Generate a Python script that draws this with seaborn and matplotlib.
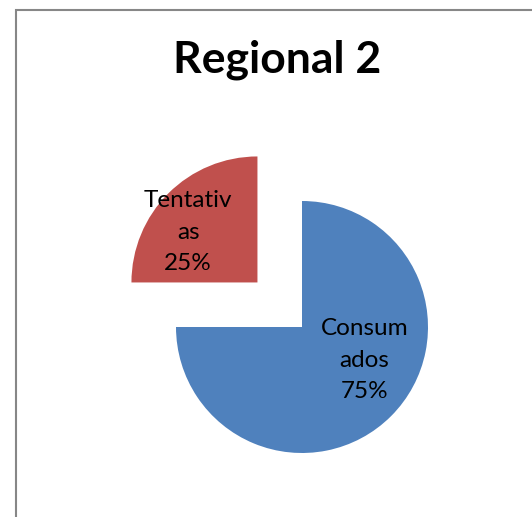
import numpy as np
import matplotlib
matplotlib.use("Agg")
import matplotlib.pyplot as plt
import seaborn as sns

# Data
categories = ["Consumados", "Tentativas"]
values = [75, 25]
wrapped_labels = ["Consum\nados", "Tentativ\nas"]
colors = ["#4F81BD", "#C0504D"]
title = "Regional 2"

sns.set_theme(style="white")
plt.rcParams["font.family"] = ["Lato", "DejaVu Sans"]

W, H = 532, 517
fig = plt.figure(figsize=(W / 100, H / 100), dpi=100)
ax = fig.add_axes([0, 0, 1, 1])

center = (302, 190)
radius = 126
explode = [0.0, 0.5 * radius]  # pie offsets are in data units

wedges, _ = ax.pie(values, colors=colors, startangle=90, counterclock=False,
                   explode=explode, center=center, radius=radius,
                   wedgeprops=dict(linewidth=0))

# Pixel-scaled frame (set after pie, which resets limits)
ax.set_xlim(0, W)
ax.set_ylim(0, H)
ax.set_aspect("equal")
ax.axis("off")

# Label placement (fraction of radius, angle in degrees) relative to each wedge
label_pos = [(0.56, -28), (0.68, 144)]
total = sum(values)
for w, lab, v, (frac, ang) in zip(wedges, wrapped_labels, values, label_pos):
    cx, cy = w.center
    x = cx + frac * radius * np.cos(np.radians(ang))
    y = cy + frac * radius * np.sin(np.radians(ang))
    ax.text(x, y, f"{lab}\n{v / total * 100:.0f}%", ha="center", va="center",
            fontsize=17.5, linespacing=1.6, color="black")

ax.text(277, 517 - 73, title, ha="center", va="baseline", fontsize=32,
        fontweight="bold", color="black")

# Chart area border (left and top edges)
ax.plot([15.5, 15.5, W + 5], [-5, 507.5, 507.5], color="#878787", lw=1.5,
        solid_joinstyle="miter", clip_on=False)

fig.savefig("out.png", dpi=100)
